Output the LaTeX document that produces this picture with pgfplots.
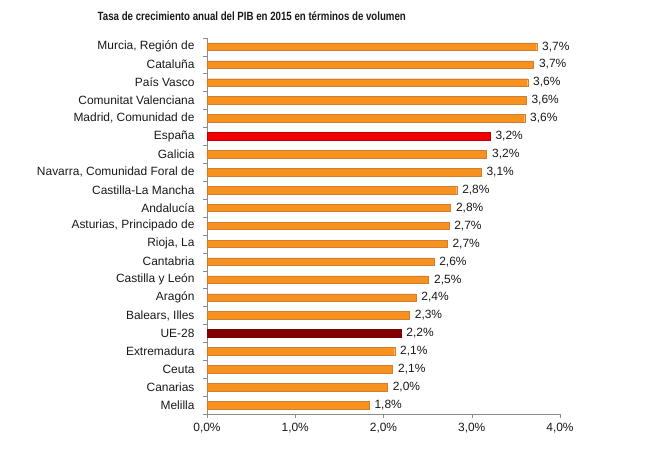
\documentclass[border=0pt]{standalone}
\usepackage{pgfplots}
\pgfplotsset{compat=1.18}
\usepackage{fontspec}
\usepackage{graphicx}
\setmainfont{Liberation Sans}
\definecolor{barorange}{RGB}{247,146,30}
\definecolor{barborder}{RGB}{210,125,50}
\definecolor{barred}{RGB}{240,0,0}
\definecolor{bardark}{RGB}{128,0,0}
\definecolor{axgray}{RGB}{140,140,140}
\definecolor{txt}{RGB}{25,25,25}
\begin{document}
\begin{tikzpicture}
\begin{axis}[
  at={(0,0)}, anchor=south west,
  scale only axis, width=353bp, height=376.3bp,
  xmin=0, xmax=4, ymin=-0.5, ymax=20.5,
  xbar, bar width=7.5bp, bar shift=0pt,
  /pgf/number format/assume math mode=true,
  axis x line*=bottom, axis y line*=left,
  axis line style={axgray},
  xtick={0,1,2,3,4},
  xticklabel={\pgfmathprintnumber[fixed,fixed zerofill,precision=1,use comma]{\tick}\%},
  ytick={0,...,20},
  yticklabels={Melilla,Canarias,Ceuta,Extremadura,UE-28,{Balears, Illes},Aragón,Castilla y León,Cantabria,{Rioja, La},{Asturias, Principado de},Andalucía,Castilla-La Mancha,{Navarra, Comunidad Foral de},Galicia,España,{Madrid, Comunidad de},Comunitat Valenciana,País Vasco,Cataluña,{Murcia, Región de}},
  minor ytick={-0.5,0.5,...,20.5},
  tick align=outside,
  major tick length=4bp, minor tick length=4bp,
  major y tick style={draw=none}, minor y tick style={draw=axgray},
  major x tick style={draw=axgray},
  tick label style={font=\fontsize{12}{14}\selectfont, text=txt},
  yticklabel style={xshift=-5bp},
  xticklabel style={yshift=-2bp},
  nodes near coords={\pgfmathprintnumber[fixed,fixed zerofill,precision=1,use comma]{\pgfplotspointmeta}\%},
  point meta=x,
  every node near coord/.append style={font=\fontsize{12}{14}\selectfont, text=txt, anchor=west, xshift=2bp},
  clip=false,
]
\addplot[fill=barorange, draw=barborder] coordinates {
 (1.836,0) (2.043,1) (2.104,2) (2.127,3) (2.368,6) (2.293,5) (2.512,7) (2.57,8) (2.72,9) (2.74,10) (2.76,11) (2.83,12) (3.105,13) (3.169,14) (3.60,16) (3.615,17) (3.634,18) (3.70,19) (3.736,20)
};
\addplot[fill=barred, draw=barred!80!black] coordinates {(3.207,15)};
\addplot[fill=bardark, draw=bardark] coordinates {(2.198,4)};
\node[font=\bfseries\fontsize{12}{14}\selectfont, text=txt] at (rel axis cs:0.127,1) [yshift=21.7bp] {\scalebox{0.81}[1]{Tasa de crecimiento anual del PIB en 2015 en términos de volumen}};
\end{axis}
\useasboundingbox (-207bp,-53bp) rectangle (443bp,414bp);
\end{tikzpicture}
\end{document}
